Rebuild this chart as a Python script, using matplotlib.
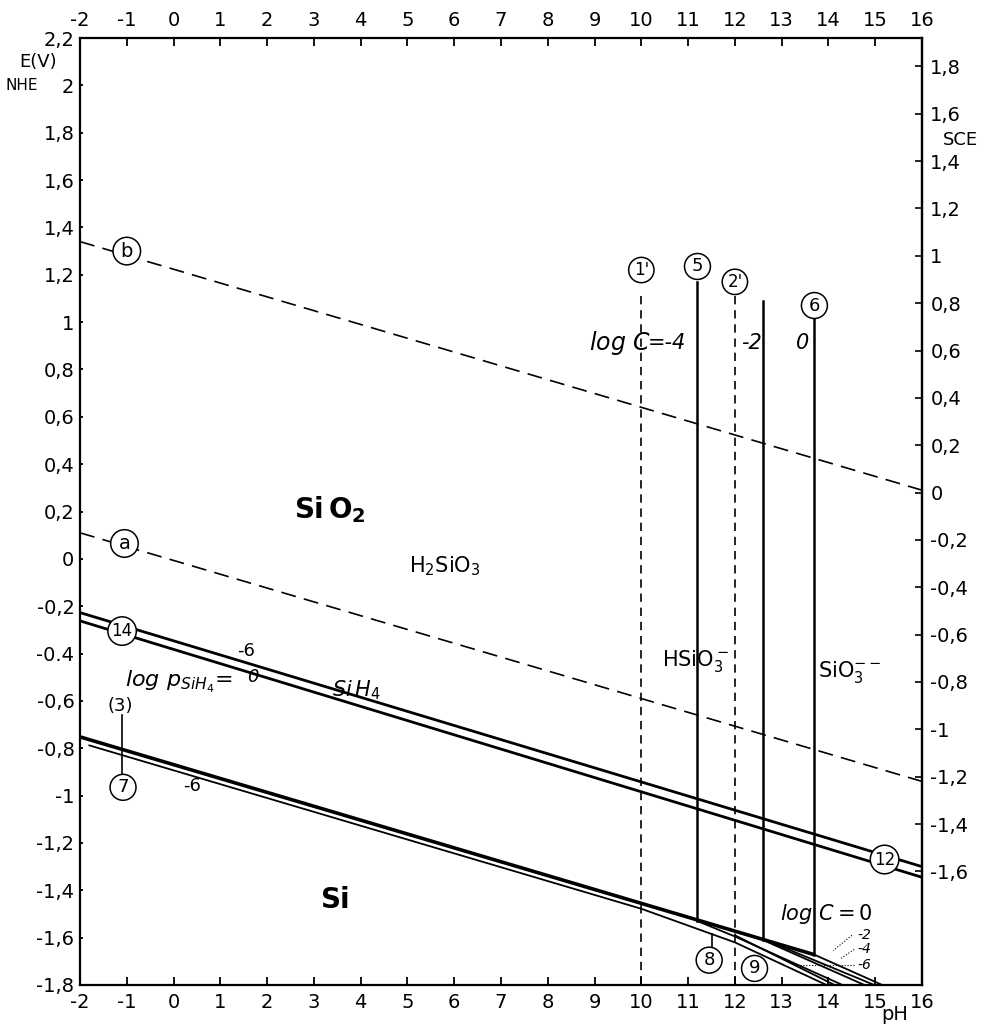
import matplotlib
matplotlib.use("Agg")
import matplotlib.pyplot as plt

# ---------------- data ----------------
ph_ticks = list(range(-2, 17))
nhe_ticks = [2.2, 2.0, 1.8, 1.6, 1.4, 1.2, 1.0, 0.8, 0.6, 0.4, 0.2, 0.0,
             -0.2, -0.4, -0.6, -0.8, -1.0, -1.2, -1.4, -1.6, -1.8]
nhe_labels = ['2,2', '2', '1,8', '1,6', '1,4', '1,2', '1', '0,8', '0,6', '0,4', '0,2', '0',
              '-0,2', '-0.4', '-0,6', '-0,8', '-1', '-1,2', '-1,4', '-1,6', '-1,8']
sce_ticks = [1.8, 1.6, 1.4, 1.2, 1.0, 0.8, 0.6, 0.4, 0.2, 0.0,
             -0.2, -0.4, -0.6, -0.8, -1.0, -1.2, -1.4, -1.6]
sce_labels = ['1,8', '1,6', '1,4', '1,2', '1', '0,8', '0,6', '0,4', '0,2', '0',
              '-0,2', '-0,4', '-0,6', '-0,8', '-1', '-1,2', '-1,4', '-1,6']
sce_offset = 0.28

# water lines (dashed)
line_b_ph = [-2, 16];  line_b_E = [1.34, 0.29]
line_a_ph = [-2, 16];  line_a_E = [0.11, -0.94]
# SiO2 / SiH4 pair (14)
l14_up_ph = [-2, 16];  l14_up_E = [-0.227, -1.30]
l14_lo_ph = [-2, 16];  l14_lo_E = [-0.262, -1.345]
# Si pair (7)
l7_thick_ph = [-2, 13.7];  l7_thick_E = [-0.752, -1.672]
l7_thin_ph = [-1.8, 10.0, 12.0, 13.96];  l7_thin_E = [-0.788, -1.478, -1.62, -1.80]
# fan lines log C
fan_ph = [[11.2, 12.0, 14.3], [12.0, 14.13], [12.6, 14.77], [12.9, 14.98], [13.7, 15.15]]
fan_E = [[-1.53, -1.595, -1.80], [-1.59, -1.80], [-1.61, -1.80], [-1.63, -1.80], [-1.672, -1.80]]
# vertical solid lines (5), (log C=-2), (6)
vsolid_ph = [11.2, 12.6, 13.7]
vsolid_top = [1.17, 1.09, 1.02]
vsolid_bot = [-1.530, -1.612, -1.672]
# vertical dashed lines (1'), (2')
vdash_ph = [10.0, 12.0]
vdash_top = [1.11, 1.11]

# ---------------- figure ----------------
plt.rcParams['font.family'] = ['DejaVu Sans']
fig = plt.figure(figsize=(10.06, 10.27), dpi=100)
ax = fig.add_axes([80/1006, 1-985/1027, 842/1006, 947/1027])
ax.set_xlim(-2, 16)
ax.set_ylim(-1.8, 2.2)

for s in ax.spines.values():
    s.set_linewidth(1.6)

ax.set_xticks(ph_ticks)
ax.set_xticklabels([str(v) for v in ph_ticks])
ax.set_yticks(nhe_ticks)
ax.set_yticklabels(nhe_labels)
ax.tick_params(axis='x', direction='in', length=6, width=1.3, top=True, labeltop=True,
               labelsize=14, pad=6)
ax.tick_params(axis='y', direction='in', length=2, width=1.3, labelsize=14, pad=4)

sec = ax.secondary_yaxis('right', functions=(lambda e: e - sce_offset, lambda s: s + sce_offset))
sec.set_yticks(sce_ticks)
sec.set_yticklabels(sce_labels)
sec.tick_params(direction='in', length=5, width=1.2, labelsize=14, pad=6)
sec.spines['right'].set_linewidth(1.6)

k = 'black'
dash_long = (0, (9, 5))
dash_short = (0, (5, 3.5))
ax.plot(line_b_ph, line_b_E, color=k, lw=1.2, ls=dash_long)
ax.plot(line_a_ph, line_a_E, color=k, lw=1.2, ls=dash_long)
ax.plot(l14_up_ph, l14_up_E, color=k, lw=2.0)
ax.plot(l14_lo_ph, l14_lo_E, color=k, lw=2.0)
ax.plot(l7_thick_ph, l7_thick_E, color=k, lw=2.6, solid_capstyle='butt')
ax.plot(l7_thin_ph, l7_thin_E, color=k, lw=1.3)
for xs, ys in zip(fan_ph, fan_E):
    ax.plot(xs, ys, color=k, lw=1.3)
for x, t, b in zip(vsolid_ph, vsolid_top, vsolid_bot):
    ax.plot([x, x], [t, b], color=k, lw=1.8)
for x, t in zip(vdash_ph, vdash_top):
    ax.plot([x, x], [t, -1.8], color=k, lw=1.2, ls=dash_short)

# small connector ticks
ax.plot([-1.1, -1.1], [-0.66, -0.93], color=k, lw=1.2)
ax.plot([11.5, 11.5], [-1.585, -1.64], color=k, lw=1.2)
# dotted leaders for log C labels
ax.plot([14.5, 14.1], [-1.59, -1.655], color=k, lw=0.8, ls=':')
ax.plot([14.55, 14.25], [-1.65, -1.69], color=k, lw=0.8, ls=':')
ax.plot([14.55, 13.3], [-1.715, -1.715], color=k, lw=0.8, ls=':')

def circ(x, y, s, fs=13):
    ax.text(x, y, s, ha='center', va='center', fontsize=fs, zorder=5,
            bbox=dict(boxstyle='circle,pad=0.22', fc='white', ec=k, lw=1.1))

circ(-1.0, 1.30, 'b', 14)
circ(-1.05, 0.065, 'a', 14)
circ(-1.1, -0.305, '14', 12)
circ(-1.08, -0.965, '7', 13)
circ(10.0, 1.22, "1'", 12)
circ(11.2, 1.235, '5', 13)
circ(12.0, 1.17, "2'", 12)
circ(13.7, 1.07, '6', 13)
circ(15.2, -1.27, '12', 12)
circ(11.45, -1.695, '8', 13)
circ(12.42, -1.73, '9', 13)

ax.text(-1.15, -0.62, '(3)', ha='center', va='center', fontsize=13)
ax.text(0.4, -0.96, '-6', ha='center', va='center', fontsize=13)
ax.text(1.55, -0.39, '-6', ha='center', va='center', fontsize=13)
ax.text(1.7, -0.50, '0', ha='center', va='center', fontsize=13, style='italic')
ax.text(1.25, -0.52, r'$log\ p_{SiH_4}$=', ha='right', va='center', fontsize=16)

ax.text(3.35, 0.21, r'$\mathbf{Si\,O_2}$', ha='center', va='center', fontsize=20)
ax.text(5.8, -0.03, r'H$_2$SiO$_3$', ha='center', va='center', fontsize=15)
ax.text(3.9, -0.555, r'$Si\,H_4$', ha='center', va='center', fontsize=15)
ax.text(3.45, -1.44, r'$\mathbf{Si}$', ha='center', va='center', fontsize=20)
ax.text(11.15, -0.43, r'HSiO$_3^-$', ha='center', va='center', fontsize=15)
ax.text(14.45, -0.48, r'SiO$_3^{--}$', ha='center', va='center', fontsize=15)

ax.text(9.55, 0.91, r'$log\ C$', ha='center', va='center', fontsize=17)
ax.text(10.55, 0.91, '=-4', ha='center', va='center', fontsize=15, style='italic')
ax.text(12.35, 0.91, '-2', ha='center', va='center', fontsize=15, style='italic')
ax.text(13.45, 0.91, '0', ha='center', va='center', fontsize=15, style='italic')

ax.text(13.95, -1.50, r'$log\ C = 0$', ha='center', va='center', fontsize=15)
ax.text(14.62, -1.59, '-2', ha='left', va='center', fontsize=10, style='italic')
ax.text(14.62, -1.65, '-4', ha='left', va='center', fontsize=10, style='italic')
ax.text(14.62, -1.715, '-6', ha='left', va='center', fontsize=10, style='italic')

fig.text(38/1006, 1-62/1027, 'E(V)', ha='center', va='center', fontsize=13)
fig.text(22/1006, 1-86/1027, 'NHE', ha='center', va='center', fontsize=11)
fig.text(960/1006, 1-140/1027, 'SCE', ha='center', va='center', fontsize=13)
fig.text(895/1006, 1-1015/1027, 'pH', ha='center', va='center', fontsize=14)

fig.savefig('out.png', dpi=100, facecolor='white')
